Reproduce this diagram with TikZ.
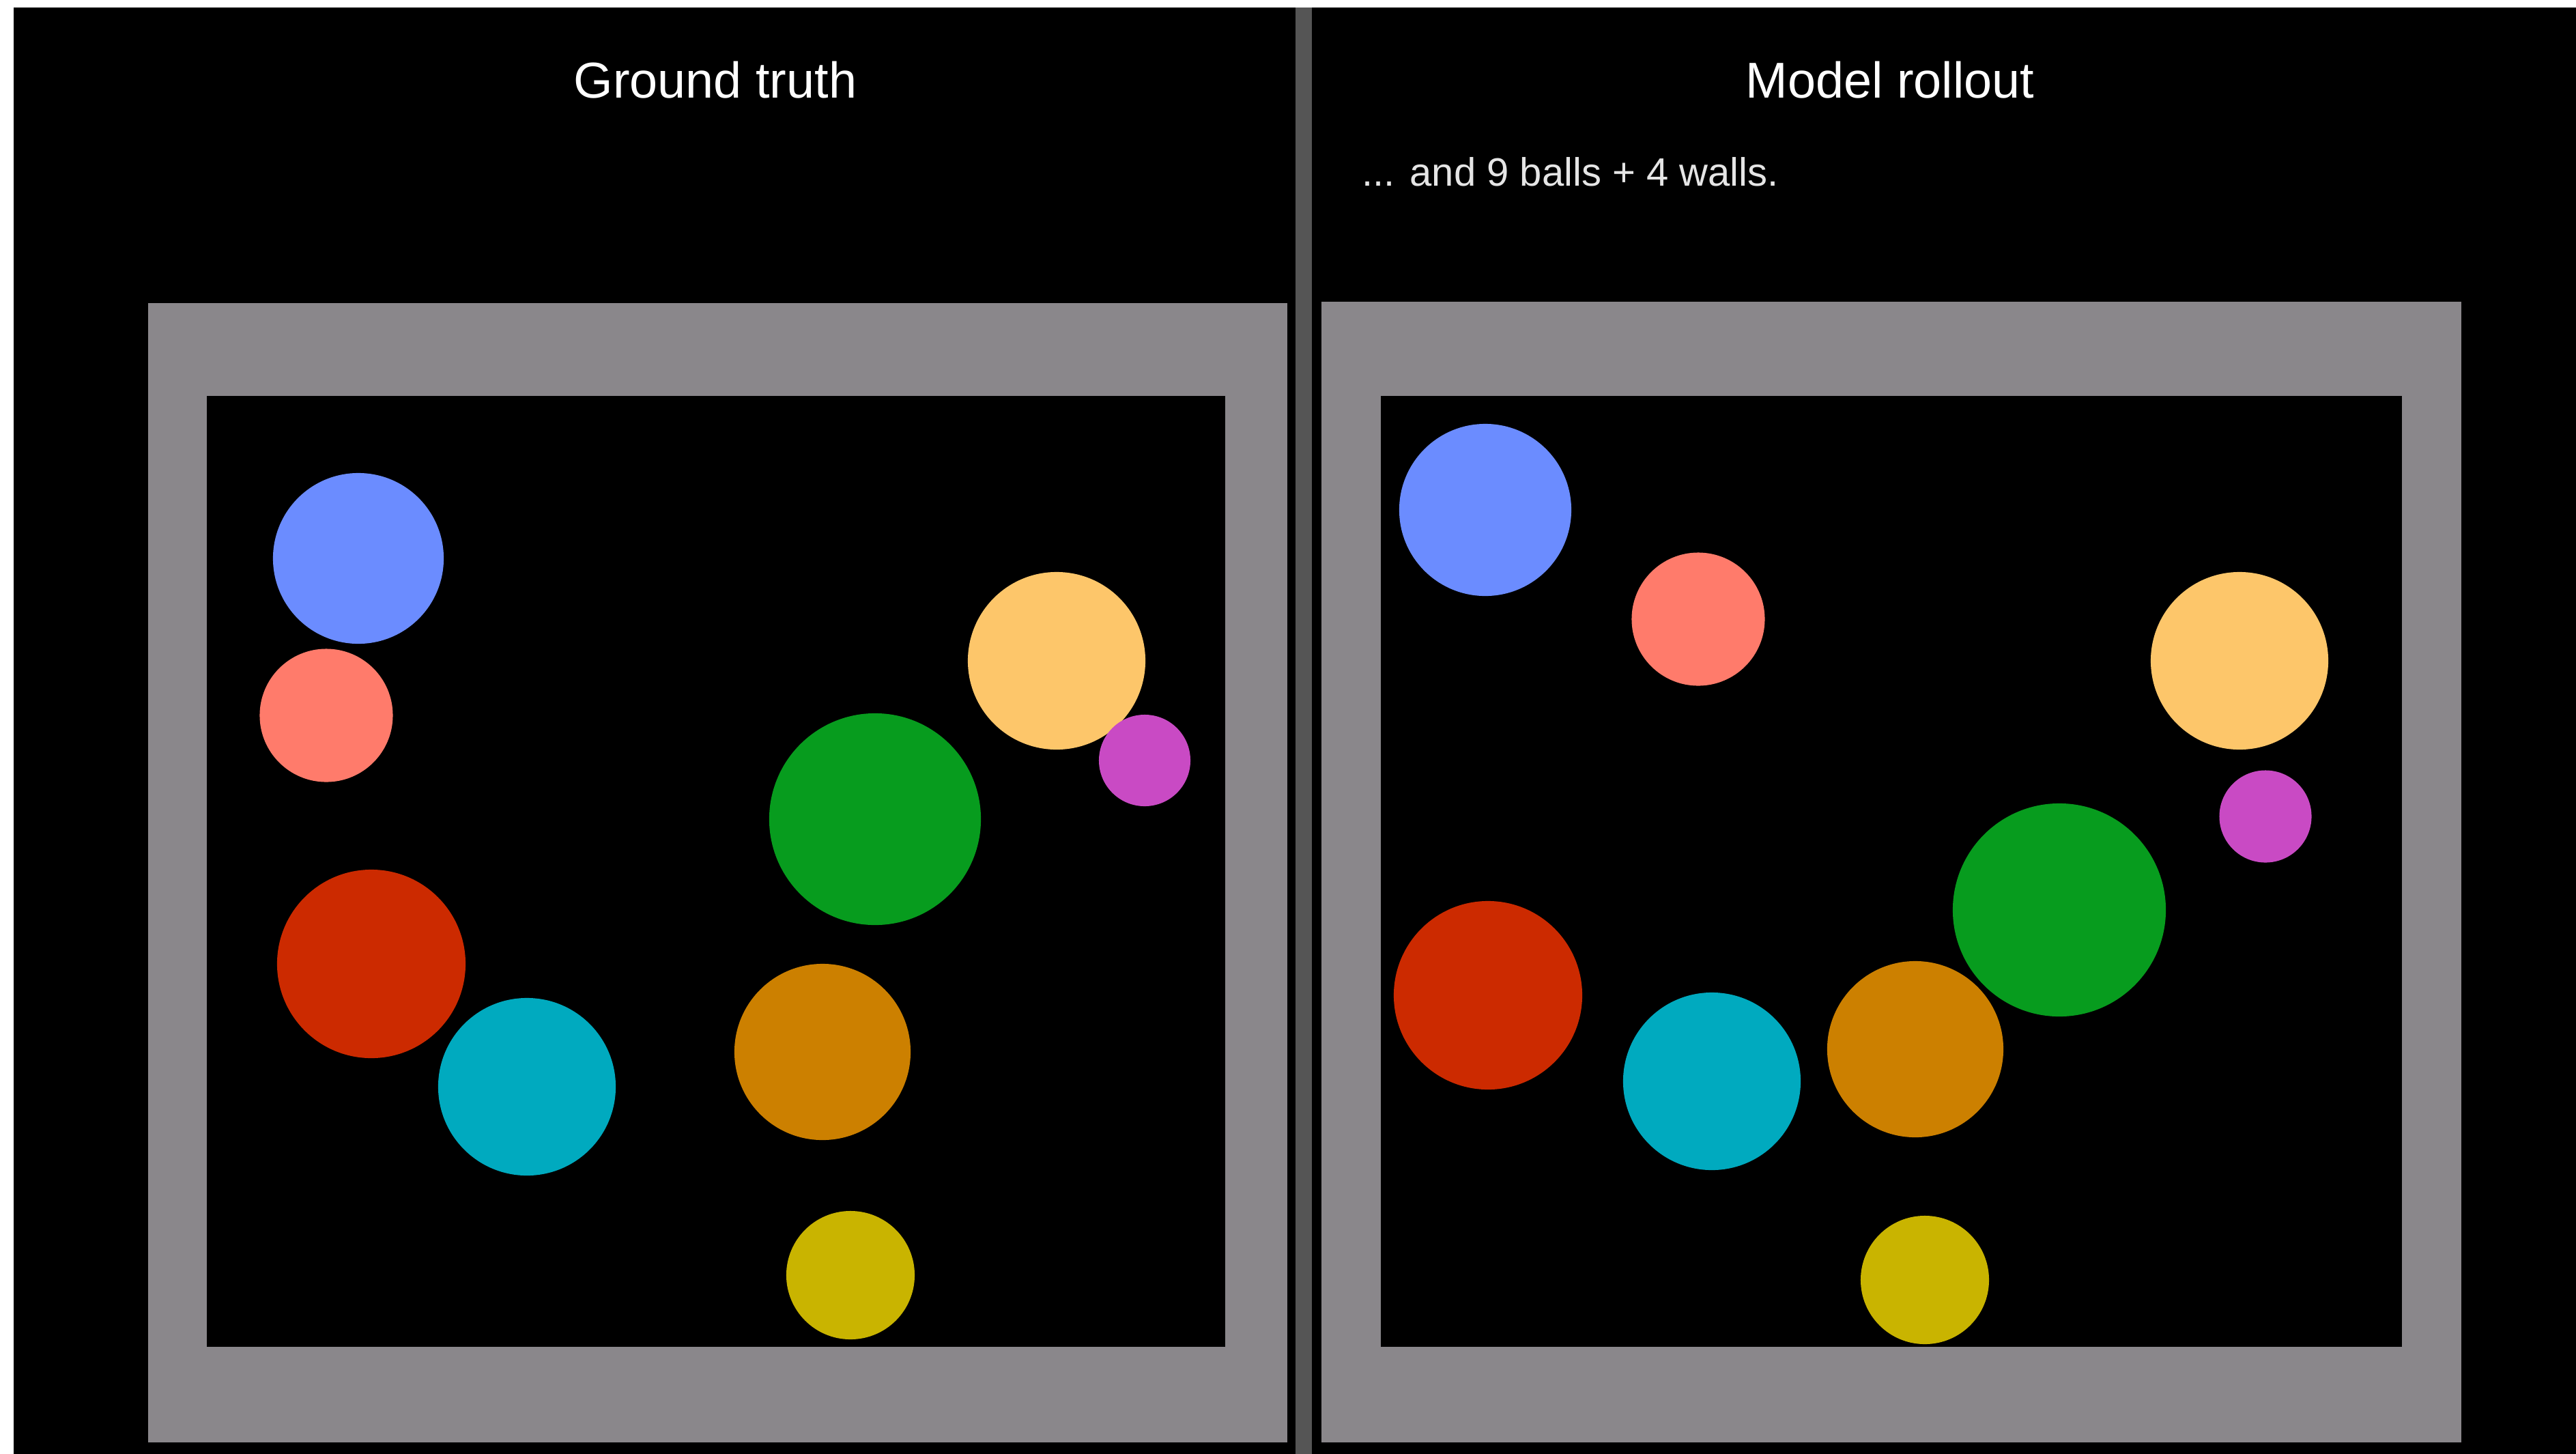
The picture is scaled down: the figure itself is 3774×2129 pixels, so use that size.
\documentclass[tikz,border=0pt]{standalone}
\usepackage{fontspec}
\setmainfont{Liberation Sans}
\usepackage{tikz}
\usetikzlibrary{positioning}
\definecolor{wallgrey}{RGB}{138, 135, 139}
\definecolor{divgrey}{RGB}{85, 85, 85}
\definecolor{ballblue}{RGB}{107, 140, 255}
\definecolor{ballsalmon}{RGB}{255, 123, 107}
\definecolor{ballsand}{RGB}{253, 198, 106}
\definecolor{ballmagenta}{RGB}{201, 74, 196}
\definecolor{ballgreen}{RGB}{7, 156, 30}
\definecolor{ballred}{RGB}{204, 42, 0}
\definecolor{ballcyan}{RGB}{0, 170, 191}
\definecolor{ballorange}{RGB}{204, 128, 0}
\definecolor{ballyellow}{RGB}{201, 180, 0}

\begin{document}
\begin{tikzpicture}[
      x=0.01cm, y=-0.01cm,
      ball/.style={circle, inner sep=0pt, draw=none},
      title/.style={text=white, anchor=base, inner sep=0pt,
                    font=\fontsize{21}{25}\selectfont},
      note/.style={text=white!90!black, anchor=base west, inner sep=0pt,
                   font=\fontsize{16.5}{20}\selectfont},
      wall/.style={fill=wallgrey},
      arena/.style={fill=black}
    ]
    \useasboundingbox (0,0) rectangle (3774,2129);
    \fill[white] (-20,-20) rectangle (3800,2150);
    \fill[black] (20,11) rectangle (3800,2150);
    \fill[divgrey] (1898,11) rectangle (1922,2150);

    %% Left: ground truth
    \fill[wall]  (217,444) rectangle (1886,2113);
    \fill[arena] (303,580) rectangle (1795,1973);
    \node[title] (gt) at (1048,143) {Ground truth};

    \node[ball, fill=ballblue,    minimum size=2.50cm] (gblue)    at (525,818)   {};
    \node[ball, fill=ballsalmon,  minimum size=1.95cm] (gsalmon)  at (478,1048)  {};
    \node[ball, fill=ballsand,    minimum size=2.60cm] (gsand)    at (1548,968)  {};
    \node[ball, fill=ballmagenta, minimum size=1.34cm] (gmagenta) at (1677,1114) {};
    \node[ball, fill=ballgreen,   minimum size=3.10cm] (ggreen)   at (1282,1200) {};
    \node[ball, fill=ballred,     minimum size=2.76cm] (gred)     at (544,1412)  {};
    \node[ball, fill=ballcyan,    minimum size=2.60cm] (gcyan)    at (772,1592)  {};
    \node[ball, fill=ballorange,  minimum size=2.58cm] (gorange)  at (1205,1541) {};
    \node[ball, fill=ballyellow,  minimum size=1.88cm] (gyellow)  at (1246,1868) {};

    %% Right: model rollout
    \fill[wall]  (1936,442) rectangle (3606,2113);
    \fill[arena] (2023,580) rectangle (3519,1973);
    \node[title] (mr) at (2769,143) {Model rollout};
    \node[note]  (nt) at (1995,272) {... and 9 balls + 4 walls.};

    \node[ball, fill=ballblue,    minimum size=2.52cm] (mblue)    at (2176,747)  {};
    \node[ball, fill=ballsalmon,  minimum size=1.95cm] (msalmon)  at (2488,907)  {};
    \node[ball, fill=ballsand,    minimum size=2.60cm] (msand)    at (3281,968)  {};
    \node[ball, fill=ballmagenta, minimum size=1.35cm] (mmagenta) at (3319,1196) {};
    \node[ball, fill=ballgreen,   minimum size=3.12cm] (mgreen)   at (3017,1333) {};
    \node[ball, fill=ballred,     minimum size=2.76cm] (mred)     at (2180,1458) {};
    \node[ball, fill=ballcyan,    minimum size=2.60cm] (mcyan)    at (2508,1584) {};
    \node[ball, fill=ballorange,  minimum size=2.58cm] (morange)  at (2806,1537) {};
    \node[ball, fill=ballyellow,  minimum size=1.88cm] (myellow)  at (2820,1875) {};
\end{tikzpicture}
\end{document}
